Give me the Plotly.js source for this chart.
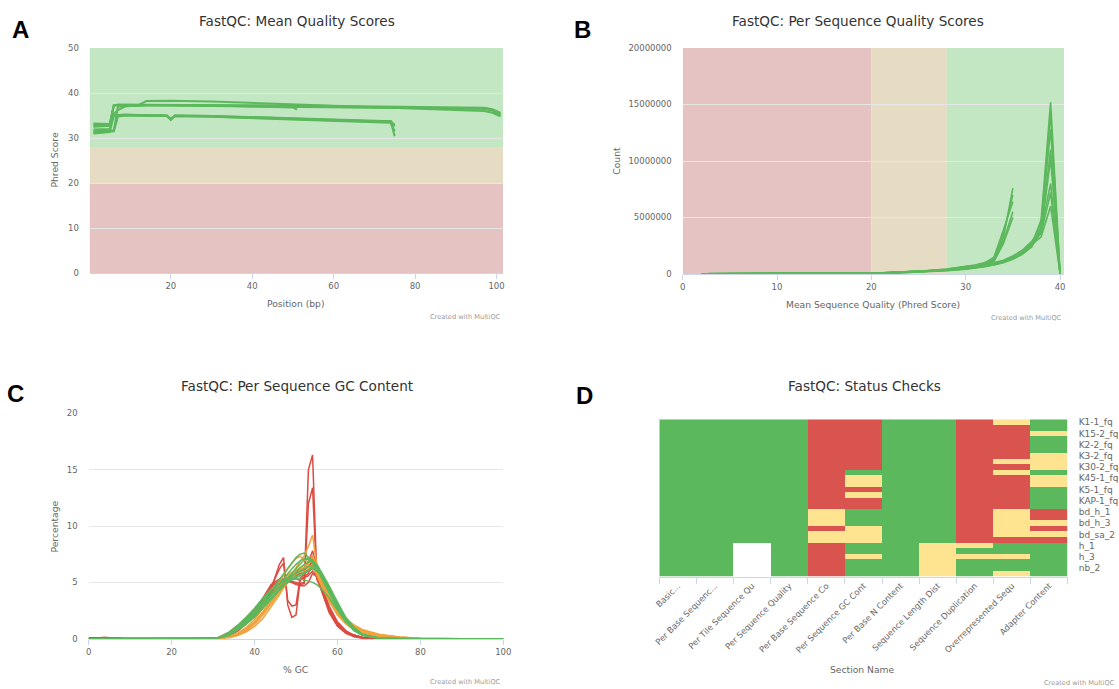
<!DOCTYPE html>
<html>
<head>
<meta charset="utf-8">
<script src="https://cdn.plot.ly/plotly-3.0.1.min.js"></script>
<style>html,body{margin:0;padding:0;background:#fff;}#chart{width:1119px;height:689px;}</style>
</head>
<body>
<div id="chart"></div>
<script>
// ---------------- Panel A: Mean Quality Scores ----------------
const posA100 = [1, 3, 5, 6, 7, 9, 12, 14, 20, 30, 40, 50, 60, 70, 80, 90, 97, 99, 101];
const mqA1 = [32.9, 32.9, 33.0, 37.2, 37.3, 37.3, 37.3, 38.2, 38.3, 38.1, 37.8, 37.5, 37.2, 36.9, 36.6, 36.3, 36.0, 35.6, 34.8];
const mqA2 = [33.2, 33.2, 33.1, 37.3, 37.4, 37.4, 37.4, 37.4, 37.4, 37.3, 37.3, 37.2, 37.1, 37.0, 36.9, 36.8, 36.7, 36.4, 35.6];
const mqA3 = [31.2, 31.4, 31.5, 31.6, 37.0, 37.1, 37.2, 37.2, 37.2, 37.1, 37.1, 37.0, 36.9, 36.8, 36.7, 36.6, 36.5, 36.2, 35.3];
const mqA4 = [31.9, 32.0, 32.0, 35.4, 36.2, 37.1, 37.3, 37.3, 37.3, 37.2, 37.1, 37.0, 36.9, 36.8, 36.7, 36.6, 36.5, 36.1, 35.0];
const posA51 = [1, 3, 5, 6, 7, 9, 12, 14, 20, 30, 40, 50, 51];
const mqA5 = [32.5, 32.6, 32.7, 37.3, 37.4, 37.4, 37.4, 37.4, 37.3, 37.2, 37.0, 36.8, 36.3];
const posA75 = [1, 3, 5, 6, 7, 9, 12, 15, 19, 20, 21, 30, 40, 50, 60, 70, 74, 75];
const mqA6 = [31.0, 31.2, 31.3, 35.0, 35.1, 35.1, 35.1, 35.1, 35.0, 34.2, 35.0, 34.9, 34.7, 34.4, 34.1, 33.8, 33.7, 30.4];
const mqA7 = [31.5, 31.6, 31.6, 31.7, 35.1, 35.2, 35.1, 35.1, 35.0, 34.0, 35.0, 34.9, 34.6, 34.3, 34.0, 33.7, 33.6, 32.6];
const mqA8 = [32.8, 32.9, 32.9, 34.9, 35.0, 35.0, 35.0, 35.0, 34.9, 34.3, 34.9, 34.8, 34.5, 34.2, 33.9, 33.6, 33.8, 32.9];
const mqA9 = [31.3, 31.4, 31.5, 31.5, 34.8, 35.0, 35.0, 34.9, 34.9, 34.1, 34.9, 34.7, 34.4, 34.2, 33.9, 33.5, 33.4, 31.5];
const bandsA = [[0, 20, '#e6c3c3'], [20, 28, '#e6dcc3'], [28, 50, '#c3e6c3']];

// ---------------- Panel B: Per Sequence Quality Scores ----------------
const qualB35 = [2, 10, 15, 20, 22, 24, 26, 28, 30, 31, 32, 33, 34, 35];
const cntB1 = [10000, 20000, 40000, 80000, 130000, 200000, 300000, 420000, 620000, 780000, 980000, 1300000, 3200000, 7600000];
const cntB2 = [10000, 20000, 40000, 80000, 130000, 200000, 300000, 430000, 640000, 800000, 1000000, 1400000, 3600000, 7000000];
const cntB3 = [10000, 20000, 40000, 70000, 120000, 190000, 280000, 400000, 600000, 750000, 950000, 1500000, 3900000, 6400000];
const cntB4 = [10000, 20000, 30000, 70000, 120000, 180000, 270000, 380000, 570000, 720000, 900000, 1200000, 2900000, 5500000];
const cntB5 = [10000, 20000, 30000, 60000, 110000, 170000, 260000, 370000, 550000, 700000, 880000, 1100000, 2700000, 5000000];
const qualB40 = [2, 10, 15, 20, 22, 24, 26, 28, 30, 31, 32, 33, 34, 35, 36, 37, 38, 39, 40];
const cntB6 = [10000, 20000, 30000, 60000, 100000, 160000, 240000, 340000, 480000, 580000, 700000, 860000, 1080000, 1400000, 1850000, 2600000, 4800000, 15200000, 50000];
const cntB7 = [10000, 20000, 30000, 60000, 110000, 170000, 260000, 370000, 520000, 620000, 750000, 920000, 1150000, 1500000, 1950000, 2700000, 4500000, 14200000, 50000];
const cntB8 = [10000, 20000, 30000, 50000, 90000, 150000, 220000, 320000, 450000, 550000, 670000, 820000, 1030000, 1350000, 1800000, 2500000, 4200000, 12800000, 40000];
const cntB9 = [10000, 20000, 30000, 50000, 90000, 140000, 210000, 300000, 430000, 530000, 650000, 800000, 1000000, 1300000, 1750000, 2400000, 3900000, 11000000, 40000];
const cntB10 = [10000, 20000, 40000, 70000, 120000, 190000, 280000, 400000, 560000, 670000, 800000, 980000, 1220000, 1600000, 2100000, 2900000, 4000000, 8000000, 60000];
const cntB11 = [10000, 20000, 40000, 70000, 120000, 180000, 270000, 380000, 540000, 650000, 780000, 950000, 1180000, 1550000, 2000000, 2750000, 3600000, 7200000, 50000];
const cntB12 = [10000, 20000, 40000, 60000, 110000, 170000, 250000, 360000, 500000, 600000, 720000, 880000, 1100000, 1450000, 1900000, 2600000, 3300000, 6000000, 50000];
const cntB13 = [10000, 20000, 30000, 50000, 100000, 150000, 230000, 330000, 470000, 570000, 690000, 850000, 1060000, 1380000, 1820000, 2500000, 3700000, 10200000, 40000];
const bandsB = [[0, 20, '#e6c3c3'], [20, 28, '#e6dcc3'], [28, 40.42, '#c3e6c3']];

// ---------------- Panel C: Per Sequence GC Content ----------------
const gcC = [0, 4, 8, 15, 25, 31, 34, 36, 38, 40, 42, 44, 46, 47, 48, 49, 50, 51, 52, 53, 54, 55, 56, 58, 60, 62, 64, 66, 70, 75, 80, 90, 100];
const gcFail1 = [0.05, 0.1, 0.02, 0, 0, 0.05, 0.5, 1.0, 1.6, 2.3, 3.2, 4.2, 4.9, 5.0, 5.0, 5.1, 5.0, 4.9, 5.0, 15.0, 16.3, 5.6, 4.6, 2.6, 1.4, 0.7, 0.3, 0.1, 0.02, 0, 0, 0, 0];
const gcFail2 = [0.05, 0.1, 0.02, 0, 0, 0.05, 0.5, 1.0, 1.6, 2.4, 3.3, 4.3, 5.0, 5.1, 5.1, 5.0, 4.9, 4.8, 4.9, 12.0, 13.4, 5.3, 4.5, 2.5, 1.3, 0.6, 0.3, 0.1, 0.02, 0, 0, 0, 0];
const gcFail3 = [0.03, 0.08, 0.02, 0, 0, 0.05, 0.4, 0.9, 1.5, 2.2, 3.2, 4.4, 6.6, 7.2, 3.0, 1.9, 2.1, 5.2, 5.5, 5.8, 6.6, 5.6, 4.6, 2.5, 1.3, 0.6, 0.3, 0.1, 0.02, 0, 0, 0, 0];
const gcFail4 = [0.03, 0.06, 0.01, 0, 0, 0.05, 0.4, 0.9, 1.6, 2.3, 3.3, 4.6, 6.2, 6.7, 3.4, 2.9, 3.0, 5.4, 5.7, 6.1, 7.0, 5.9, 4.7, 2.6, 1.3, 0.6, 0.3, 0.1, 0.02, 0, 0, 0, 0];
const gcFail5 = [0.02, 0.05, 0.01, 0, 0, 0.04, 0.3, 0.7, 1.3, 2.0, 3.0, 4.1, 5.0, 5.3, 5.4, 5.5, 5.6, 5.8, 6.2, 6.8, 7.8, 6.3, 4.9, 2.7, 1.4, 0.6, 0.3, 0.1, 0.02, 0, 0, 0, 0];
const gcFail6 = [0.02, 0.04, 0.01, 0, 0, 0.05, 0.6, 1.2, 1.9, 2.6, 3.6, 4.8, 5.3, 5.3, 5.2, 5.3, 5.3, 5.2, 5.4, 5.6, 6.0, 5.5, 4.4, 2.3, 1.1, 0.5, 0.2, 0.05, 0.01, 0, 0, 0, 0];
const gcFail7 = [0.02, 0.03, 0.01, 0, 0, 0.04, 0.5, 1.0, 1.7, 2.5, 3.5, 4.6, 5.2, 5.3, 5.2, 5.0, 4.8, 4.7, 4.7, 5.0, 5.8, 5.5, 4.6, 2.5, 1.2, 0.5, 0.2, 0.05, 0.01, 0, 0, 0, 0];
const gcFail8 = [0.02, 0.03, 0.01, 0, 0, 0.03, 0.3, 0.8, 1.4, 2.1, 3.0, 4.0, 4.8, 5.1, 5.3, 5.5, 5.7, 5.9, 6.1, 6.4, 6.9, 6.0, 4.9, 2.9, 1.5, 0.7, 0.3, 0.1, 0.02, 0, 0, 0, 0];
const gcWarn1 = [0, 0, 0, 0, 0, 0.02, 0.15, 0.4, 0.8, 1.4, 2.3, 3.4, 4.5, 5.0, 5.4, 5.8, 6.3, 6.8, 7.4, 8.2, 9.2, 6.6, 5.3, 3.4, 2.2, 1.5, 1.0, 0.7, 0.35, 0.12, 0.03, 0, 0];
const gcWarn2 = [0, 0, 0, 0, 0, 0.02, 0.2, 0.5, 1.0, 1.7, 2.7, 3.9, 5.0, 5.6, 6.2, 6.7, 7.1, 7.3, 7.0, 6.8, 7.2, 6.0, 5.1, 3.6, 2.4, 1.6, 1.1, 0.7, 0.3, 0.1, 0.02, 0, 0];
const gcWarn3 = [0, 0, 0, 0, 0, 0.01, 0.1, 0.3, 0.7, 1.3, 2.1, 3.1, 4.1, 4.7, 5.2, 5.6, 6.0, 6.3, 6.5, 6.7, 6.9, 6.1, 5.2, 3.7, 2.5, 1.7, 1.2, 0.8, 0.4, 0.15, 0.03, 0, 0];
const gcWarn4 = [0, 0, 0, 0, 0, 0.01, 0.1, 0.3, 0.6, 1.1, 1.8, 2.8, 3.9, 4.5, 5.0, 5.4, 5.8, 6.1, 6.3, 6.6, 7.4, 6.3, 5.4, 3.9, 2.7, 1.8, 1.2, 0.8, 0.35, 0.12, 0.03, 0, 0];
const gcWarn5 = [0, 0, 0, 0, 0, 0.02, 0.2, 0.5, 0.9, 1.5, 2.4, 3.5, 4.6, 5.2, 5.6, 5.9, 6.1, 6.2, 6.3, 6.4, 6.6, 5.8, 5.0, 3.5, 2.3, 1.5, 1.0, 0.6, 0.25, 0.08, 0.02, 0, 0];
const gcWarn6 = [0, 0, 0, 0, 0, 0.01, 0.15, 0.4, 0.8, 1.4, 2.2, 3.3, 4.3, 4.8, 5.2, 5.5, 5.7, 5.9, 6.0, 6.2, 6.5, 5.6, 4.8, 3.3, 2.1, 1.3, 0.8, 0.5, 0.2, 0.06, 0.01, 0, 0];
const gcPass1 = [0, 0, 0, 0, 0, 0.05, 0.5, 1.0, 1.6, 2.4, 3.3, 4.3, 5.3, 5.8, 6.3, 6.8, 7.2, 7.5, 7.6, 7.2, 6.7, 6.2, 5.5, 4.0, 2.6, 1.5, 0.7, 0.3, 0.05, 0, 0, 0, 0];
const gcPass2 = [0, 0, 0, 0, 0, 0.04, 0.4, 0.9, 1.5, 2.2, 3.1, 4.0, 4.9, 5.4, 5.8, 6.2, 6.6, 6.9, 7.1, 7.0, 6.8, 6.4, 5.8, 4.3, 2.9, 1.7, 0.8, 0.3, 0.05, 0, 0, 0, 0];
const gcPass3 = [0, 0, 0, 0, 0, 0.05, 0.5, 1.1, 1.8, 2.6, 3.5, 4.3, 4.9, 5.2, 5.4, 5.6, 5.8, 6.0, 6.2, 6.4, 6.5, 6.3, 5.8, 4.5, 3.0, 1.8, 0.9, 0.35, 0.06, 0, 0, 0, 0];
const gcPass4 = [0, 0, 0, 0, 0, 0.04, 0.4, 0.9, 1.4, 2.0, 2.8, 3.6, 4.3, 4.7, 5.0, 5.3, 5.5, 5.7, 5.9, 6.1, 6.3, 6.2, 5.8, 4.6, 3.2, 1.9, 1.0, 0.4, 0.07, 0, 0, 0, 0];
const gcPass5 = [0, 0, 0, 0, 0, 0.05, 0.6, 1.2, 1.9, 2.7, 3.6, 4.4, 4.9, 5.1, 5.2, 5.3, 5.3, 5.3, 5.2, 5.1, 5.0, 4.8, 4.5, 3.6, 2.5, 1.5, 0.8, 0.3, 0.05, 0, 0, 0, 0];
const gcPass6 = [0, 0, 0, 0, 0, 0.03, 0.3, 0.8, 1.3, 1.9, 2.7, 3.5, 4.3, 4.7, 5.1, 5.5, 5.9, 6.3, 6.6, 6.8, 6.9, 6.6, 6.0, 4.7, 3.2, 1.8, 0.9, 0.35, 0.06, 0, 0, 0, 0];
const gcPass7 = [0, 0, 0, 0, 0, 0.05, 0.5, 1.0, 1.6, 2.3, 3.1, 3.9, 4.5, 4.8, 5.0, 5.2, 5.4, 5.6, 5.8, 6.0, 6.2, 6.0, 5.6, 4.4, 3.0, 1.8, 0.9, 0.35, 0.06, 0, 0, 0, 0];
const gcPass8 = [0, 0, 0, 0, 0, 0.04, 0.4, 0.9, 1.5, 2.2, 3.0, 3.8, 4.6, 5.0, 5.4, 5.8, 6.2, 6.6, 7.0, 7.2, 7.0, 6.4, 5.7, 4.2, 2.8, 1.6, 0.8, 0.3, 0.05, 0, 0, 0, 0];

// ---------------- Panel D: Status Checks ----------------
const sections = ['Basic...', 'Per Base Sequenc...', 'Per Tile Sequence Qu', 'Per Sequence Quality',
  'Per Base Sequence Co', 'Per Sequence GC Cont', 'Per Base N Content', 'Sequence Length Dist',
  'Sequence Duplication', 'Overrepresented Sequ', 'Adapter Content'];
const samples = ['K1-1_fq', 'K15-1_fq', 'K15-2_fq', 'K2-1_fq', 'K2-2_fq', 'K3-1_fq', 'K3-2_fq', 'K30-1_fq',
  'K30-2_fq', 'K4-2_fq', 'K45-1_fq', 'K45-2_fq', 'K5-1_fq', 'K5-2_fq', 'KAP-1_fq', 'KAP-2_fq',
  'bd_h_1', 'bd_h_2', 'bd_h_3', 'bd_sa_1', 'bd_sa_2', 'bd_sa_3', 'h_1', 'h_2', 'h_3', 'nb_1', 'nb_2', 'nb_3'];
const shownSamples = ['K1-1_fq', 'K15-2_fq', 'K2-2_fq', 'K3-2_fq', 'K30-2_fq', 'K45-1_fq', 'K5-1_fq',
  'KAP-1_fq', 'bd_h_1', 'bd_h_3', 'bd_sa_2', 'h_1', 'h_3', 'nb_2'];
// status per sample (rows) x section (cols): 1 = pass, 0.5 = warn, 0.25 = fail, 0 = not run
const status = [
  [1, 1, 1, 1, 0.25, 0.25, 1, 1, 0.25, 0.5, 1],
  [1, 1, 1, 1, 0.25, 0.25, 1, 1, 0.25, 0.25, 1],
  [1, 1, 1, 1, 0.25, 0.25, 1, 1, 0.25, 0.25, 0.5],
  [1, 1, 1, 1, 0.25, 0.25, 1, 1, 0.25, 0.25, 1],
  [1, 1, 1, 1, 0.25, 0.25, 1, 1, 0.25, 0.25, 1],
  [1, 1, 1, 1, 0.25, 0.25, 1, 1, 0.25, 0.25, 1],
  [1, 1, 1, 1, 0.25, 0.25, 1, 1, 0.25, 0.25, 0.5],
  [1, 1, 1, 1, 0.25, 0.25, 1, 1, 0.25, 0.5, 0.5],
  [1, 1, 1, 1, 0.25, 0.25, 1, 1, 0.25, 0.25, 0.5],
  [1, 1, 1, 1, 0.25, 1, 1, 1, 0.25, 0.5, 1],
  [1, 1, 1, 1, 0.25, 0.5, 1, 1, 0.25, 0.25, 0.5],
  [1, 1, 1, 1, 0.25, 0.5, 1, 1, 0.25, 0.25, 0.5],
  [1, 1, 1, 1, 0.25, 0.25, 1, 1, 0.25, 0.25, 1],
  [1, 1, 1, 1, 0.25, 0.5, 1, 1, 0.25, 0.25, 1],
  [1, 1, 1, 1, 0.25, 0.25, 1, 1, 0.25, 0.25, 1],
  [1, 1, 1, 1, 0.25, 0.25, 1, 1, 0.25, 0.25, 1],
  [1, 1, 1, 1, 0.5, 1, 1, 1, 0.25, 0.5, 0.25],
  [1, 1, 1, 1, 0.5, 1, 1, 1, 0.25, 0.5, 0.25],
  [1, 1, 1, 1, 0.5, 1, 1, 1, 0.25, 0.5, 0.5],
  [1, 1, 1, 1, 0.25, 0.5, 1, 1, 0.25, 0.5, 0.25],
  [1, 1, 1, 1, 0.5, 0.5, 1, 1, 0.25, 0.5, 0.5],
  [1, 1, 1, 1, 0.5, 0.5, 1, 1, 0.25, 0.25, 0.25],
  [1, 1, 0, 1, 0.25, 1, 1, 0.5, 0.5, 1, 1],
  [1, 1, 0, 1, 0.25, 1, 1, 0.5, 1, 1, 1],
  [1, 1, 0, 1, 0.25, 0.5, 1, 0.5, 0.5, 0.5, 1],
  [1, 1, 0, 1, 0.25, 1, 1, 0.5, 1, 1, 1],
  [1, 1, 0, 1, 0.25, 1, 1, 0.5, 1, 1, 1],
  [1, 1, 0, 1, 0.25, 1, 1, 0.5, 1, 0.5, 1]
];
const statusColors = [[0, '#ffffff'], [0.25, '#d9534f'], [0.5, '#fee391'], [1, '#5cb85c']];

// ---------------- Build ----------------
const W = 1119, H = 689;
const fx = p => p / W;
const fy = p => 1 - p / H;
const PASS = '#5cb85c', WARN = '#f0a33c', FAIL = '#dc4b43';
const FONT = 'DejaVu Sans';

const traces = [];
function line(x, y, xa, ya, color, width) {
  traces.push({type: 'scatter', mode: 'lines', x: x, y: y, xaxis: xa, yaxis: ya,
    line: {color: color, width: width}, hoverinfo: 'skip', showlegend: false});
}
[mqA1, mqA2, mqA3, mqA4].forEach(s => line(posA100, s, 'x', 'y', PASS, 2));
line(posA51, mqA5, 'x', 'y', PASS, 2);
[mqA6, mqA7, mqA8, mqA9].forEach(s => line(posA75, s, 'x', 'y', PASS, 2));

[cntB1, cntB2, cntB3, cntB4, cntB5].forEach(s => line(qualB35, s, 'x2', 'y2', PASS, 1.6));
[cntB6, cntB7, cntB8, cntB9, cntB10, cntB11, cntB12, cntB13].forEach(s => line(qualB40, s, 'x2', 'y2', PASS, 1.6));

[gcFail1, gcFail2, gcFail3, gcFail4, gcFail5, gcFail6, gcFail7, gcFail8].forEach(s => line(gcC, s, 'x3', 'y3', FAIL, 1.5));
[gcWarn1, gcWarn2, gcWarn3, gcWarn4, gcWarn5, gcWarn6].forEach(s => line(gcC, s, 'x3', 'y3', WARN, 1.5));
[gcPass1, gcPass2, gcPass3, gcPass4, gcPass5, gcPass6, gcPass7, gcPass8].forEach(s => line(gcC, s, 'x3', 'y3', PASS, 1.5));

traces.push({type: 'heatmap', x: sections, y: samples, z: status, xaxis: 'x4', yaxis: 'y4',
  colorscale: statusColors, zmin: 0, zmax: 1, showscale: false, hoverinfo: 'skip'});

const shapes = [];
bandsA.forEach(b => shapes.push({type: 'rect', xref: 'x domain', yref: 'y', x0: 0, x1: 1, y0: b[0], y1: b[1],
  fillcolor: b[2], line: {width: 0}, layer: 'below'}));
bandsB.forEach(b => shapes.push({type: 'rect', xref: 'x2', yref: 'y2 domain', x0: b[0], x1: b[1], y0: 0, y1: 1,
  fillcolor: b[2], line: {width: 0}, layer: 'below'}));

const tickF = {family: FONT, size: 8.5, color: '#666666'};
const axisLine = '#ccd6eb';
function xax(domain, range, dtick, anchor) {
  return {domain: domain, range: range, dtick: dtick, tick0: 0, anchor: anchor, showgrid: false,
    zeroline: false, showline: true, linecolor: axisLine, linewidth: 1, ticks: 'outside', ticklen: 5,
    tickcolor: axisLine, tickfont: tickF, fixedrange: true};
}
function yax(domain, range, dtick, anchor, fmt) {
  return {domain: domain, range: range, dtick: dtick, anchor: anchor, showgrid: true, gridcolor: '#e6e6e6',
    gridwidth: 1, zeroline: false, showline: false, ticks: '', ticklabelstandoff: 10, tickfont: tickF,
    tickformat: fmt || '', fixedrange: true};
}

const ann = [];
function txt(t, x, y, size, color, opts) {
  ann.push(Object.assign({text: t, x: fx(x), y: fy(y), xref: 'paper', yref: 'paper', showarrow: false,
    xanchor: 'center', yanchor: 'middle', font: {family: FONT, size: size, color: color}}, opts || {}));
}
// panel letters
[['A', 20, 29], ['B', 582, 30], ['C', 15, 393], ['D', 584, 395]].forEach(l =>
  txt('<b>' + l[0] + '</b>', l[1], l[2], 24, '#000000', {font: {family: 'Liberation Sans', size: 24, color: '#000'}}));
// titles
txt('FastQC: Mean Quality Scores', 297, 20.7, 13.6, '#333333');
txt('FastQC: Per Sequence Quality Scores', 858.3, 20.7, 13.6, '#333333');
txt('FastQC: Per Sequence GC Content', 296.7, 385.7, 13.6, '#333333');
txt('FastQC: Status Checks', 864, 385.5, 13.6, '#333333');
// axis titles
txt('Phred Score', 54, 160.5, 9.2, '#666666', {textangle: -90});
txt('Position (bp)', 296, 303.3, 9.2, '#666666');
txt('Count', 615.7, 161, 9.2, '#666666', {textangle: -90});
txt('Mean Sequence Quality (Phred Score)', 873.3, 304.3, 9.2, '#666666');
txt('Percentage', 54, 526.5, 9.2, '#666666', {textangle: -90});
txt('% GC', 295.7, 669, 9.2, '#666666');
txt('Section Name', 862.7, 669.3, 9.2, '#666666');
// credits
txt('Created with MultiQC', 503, 316.7, 6.6, '#999999', {xanchor: 'right'});
txt('Created with MultiQC', 1064, 318, 6.6, '#999999', {xanchor: 'right'});
txt('Created with MultiQC', 502.7, 682.3, 6.6, '#999999', {xanchor: 'right'});
txt('Created with MultiQC', 1117, 683.3, 6.6, '#999999', {xanchor: 'right'});

const layout = {
  width: W, height: H, margin: {l: 0, r: 0, t: 0, b: 0},
  paper_bgcolor: '#ffffff', plot_bgcolor: '#ffffff', showlegend: false,
  font: {family: FONT, color: '#666666'},
  xaxis: Object.assign(xax([fx(89.8), fx(503)], [0.1, 101.6], 20, 'y'), {}),
  yaxis: yax([fy(273), fy(48)], [0, 50], 10, 'x'),
  xaxis2: xax([fx(682.7), fx(1064)], [0, 40.42], 10, 'y2'),
  yaxis2: yax([fy(274), fy(48)], [0, 20000000], 5000000, 'x2', 'd'),
  xaxis3: xax([fx(88.7), fx(503.3)], [0, 100], 20, 'y3'),
  yaxis3: yax([fy(638.7), fy(413.3)], [0, 20], 5, 'x3'),
  xaxis4: {domain: [fx(659.3), fx(1067.7)], anchor: 'y4', type: 'category', tickangle: -45,
    tickson: 'boundaries', ticks: 'outside', ticklen: 6, tickcolor: axisLine, showline: true,
    linecolor: axisLine, showgrid: false, zeroline: false, tickfont: {family: FONT, size: 8.4, color: '#666666'},
    fixedrange: true},
  yaxis4: {domain: [fy(576.7), fy(419.3)], anchor: 'x4', type: 'category', autorange: 'reversed',
    side: 'right', ticks: '', tickvals: shownSamples, ticktext: shownSamples, ticklabelstandoff: 10,
    showgrid: false, zeroline: false, showline: false,
    tickfont: {family: FONT, size: 9, color: '#666666'}, fixedrange: true},
  shapes: shapes,
  annotations: ann
};

Plotly.newPlot('chart', traces, layout, {staticPlot: true, displayModeBar: false});
</script>
</body>
</html>
